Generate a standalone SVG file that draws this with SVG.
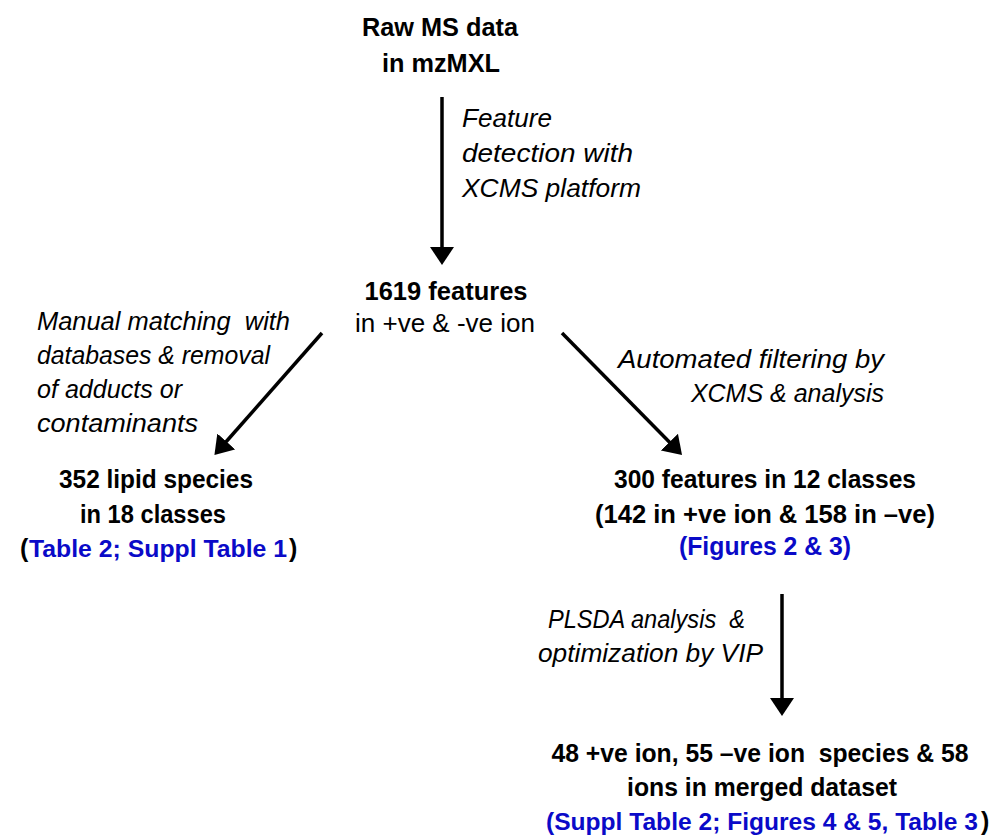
<svg xmlns="http://www.w3.org/2000/svg" width="997" height="837" viewBox="0 0 997 837">
<style>
text{font-family:"Liberation Sans",Arial,sans-serif;font-size:25px;fill:#000;white-space:pre}
.b{font-weight:bold}
.i{font-style:italic}
.m{text-anchor:middle}
.e{text-anchor:end}
.blue{fill:#0a0ac8}
.conn{stroke:#000;stroke-width:3.5;fill:none;marker-end:url(#ah)}
</style>
<defs>
<marker id="ah" markerUnits="userSpaceOnUse" markerWidth="20" markerHeight="26" refX="2" refY="12" orient="auto">
<path d="M0,0 L18,12 L0,24 z" fill="#000"/>
</marker>
</defs>
<rect width="997" height="837" fill="#fff"/>
<g id="connectors">
<line class="conn" x1="442" y1="97" x2="442" y2="249"/>
<line class="conn" x1="322" y1="333" x2="225" y2="443"/>
<line class="conn" x1="562" y1="333" x2="670.8" y2="443.6"/>
<line class="conn" x1="782" y1="594" x2="782" y2="700"/>
</g>
<g id="label-detection">
<text class="i" x="462" y="127" textLength="90" lengthAdjust="spacingAndGlyphs">Feature</text>
<text class="i" x="462" y="162" textLength="171" lengthAdjust="spacingAndGlyphs">detection with</text>
<text class="i" x="462" y="197" textLength="179" lengthAdjust="spacingAndGlyphs">XCMS platform</text>
</g>
<g id="label-manual">
<text class="i" x="37" y="330" textLength="253" lengthAdjust="spacingAndGlyphs">Manual matching  with</text>
<text class="i" x="37" y="364" textLength="233" lengthAdjust="spacingAndGlyphs">databases &amp; removal</text>
<text class="i" x="37" y="398" textLength="145" lengthAdjust="spacingAndGlyphs">of adducts or</text>
<text class="i" x="37" y="432" textLength="161" lengthAdjust="spacingAndGlyphs">contaminants</text>
</g>
<g id="label-automated">
<text class="i" x="618" y="368" textLength="266" lengthAdjust="spacingAndGlyphs">Automated filtering by</text>
<text class="i e" x="884" y="402">XCMS &amp; analysis</text>
</g>
<g id="label-plsda">
<text class="i" x="548" y="628" textLength="197" lengthAdjust="spacingAndGlyphs">PLSDA analysis  &amp;</text>
<text class="i" x="538" y="662" textLength="225" lengthAdjust="spacingAndGlyphs">optimization by VIP</text>
</g>
<g id="node-raw">
<text class="b m" x="440" y="36" textLength="156" lengthAdjust="spacingAndGlyphs">Raw MS data</text>
<text class="b m" x="441" y="72" textLength="118" lengthAdjust="spacingAndGlyphs">in mzMXL</text>
</g>
<g id="node-features">
<text class="b m" x="446" y="300" textLength="163" lengthAdjust="spacingAndGlyphs">1619 features</text>
<text class="m" x="445" y="332" textLength="180" lengthAdjust="spacingAndGlyphs">in +ve &amp; -ve ion</text>
</g>
<g id="node-lipid">
<text class="b m" x="156" y="488" textLength="194" lengthAdjust="spacingAndGlyphs">352 lipid species</text>
<text class="b m" x="153" y="523" textLength="146" lengthAdjust="spacingAndGlyphs">in 18 classes</text>
<text class="b" x="20" y="557">(</text>
<text class="b blue" x="29" y="557" style="font-size:24.4px" textLength="258" lengthAdjust="spacingAndGlyphs">Table 2; Suppl Table 1</text>
<text class="b" x="289" y="557">)</text>
</g>
<g id="node-300">
<text class="b m" x="765" y="488" textLength="302" lengthAdjust="spacingAndGlyphs">300 features in 12 classes</text>
<text class="b m" x="765" y="523" textLength="340" lengthAdjust="spacingAndGlyphs">(142 in +ve ion &amp; 158 in –ve)</text>
<text class="b m blue" x="765" y="555" textLength="172" lengthAdjust="spacingAndGlyphs">(Figures 2 &amp; 3)</text>
</g>
<g id="node-final">
<text class="b m" x="760" y="762" textLength="417" lengthAdjust="spacingAndGlyphs">48 +ve ion, 55 –ve ion  species &amp; 58</text>
<text class="b m" x="762" y="796" textLength="270" lengthAdjust="spacingAndGlyphs">ions in merged dataset</text>
<text class="b blue" x="546" y="830" style="font-size:24.2px" textLength="432" lengthAdjust="spacingAndGlyphs">(Suppl Table 2; Figures 4 &amp; 5, Table 3</text>
<text class="b" x="981" y="830">)</text>
</g>
</svg>
